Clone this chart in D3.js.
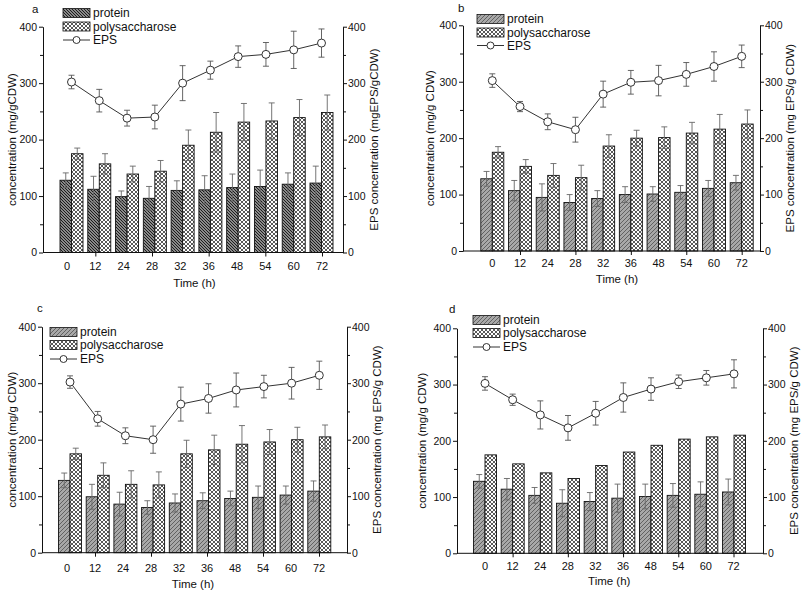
<!DOCTYPE html>
<html><head><meta charset="utf-8">
<script src="https://cdn.jsdelivr.net/npm/d3@7"></script>
<style>body{margin:0;background:#fff} text{font-family:"Liberation Sans",Arial,sans-serif;fill:#111}</style>
</head><body><svg id="chart" width="803" height="590"></svg>
<script>
const categories = ["0","12","24","28","32","36","48","54","60","72"];
const yTicks = [0,100,200,300,400];
const yMinorTicks = [50,150,250,350];
const seriesNames = ["protein","polysaccharose","EPS"];

// panel a
const proteinA    = [128,112,99,96,110,111,115,117,121,123];
const proteinErrA = [13,23,10,21,17,25,24,29,20,30];
const polyA       = [175,157,139,144,190,213,231,233,239,248];
const polyErrA    = [10,18,14,19,27,35,33,32,32,31];
const epsA        = [302,269,238,240,300,323,347,351,359,371];
const epsErrA     = [12,20,14,21,31,16,19,21,33,25];
// panel b
const proteinB    = [128,107,95,86,93,100,101,104,111,121];
const proteinErrB = [13,18,24,14,14,14,13,12,14,13];
const polyB       = [175,150,134,130,186,200,201,209,216,225];
const polyErrB    = [10,12,21,22,20,14,19,19,26,25];
const epsB        = [302,256,229,215,278,299,302,313,327,345];
const epsErrB     = [12,9,14,22,23,21,27,21,26,20];
// panel c
const proteinC    = [128,99,86,80,88,92,96,98,102,109];
const proteinErrC = [13,22,21,12,16,14,13,20,16,18];
const polyC       = [175,137,121,120,175,182,192,196,200,205];
const polyErrC    = [10,22,24,23,24,26,33,22,22,21];
const epsC        = [302,237,207,200,263,273,288,294,300,314];
const epsErrC     = [11,13,14,24,30,26,30,20,28,25];
// panel d
const proteinD    = [128,114,103,89,92,98,101,103,105,109];
const proteinErrD = [12,19,14,24,16,25,22,21,22,23];
const polyD       = [175,159,143,133,156,180,192,203,207,210];
const polyErrD    = null;
const epsD        = [302,273,246,223,249,277,292,305,312,319];
const epsErrD     = [12,10,25,22,21,26,20,12,13,25];

const panels = [
 {id:"a", protein:proteinA, proteinErr:proteinErrA, poly:polyA, polyErr:polyErrA, eps:epsA, epsErr:epsErrA,
  leftTitle:"concentration (mg/gCDW)", rightTitle:"EPS concentration (mgEPS/gCDW)", hatch:"hatchA",
  L:{axL:43, axR:343, y0:252.5, y400:26.7, bar0:71.5, bar9:321.5, lab0:67, lab9:322, tickBase:270, timeBase:287,
     labelX:32, labelY:13, legX:63, legRows:[13,26.5,40], leftTitleX:12, rightTitleX:373}},
 {id:"b", protein:proteinB, proteinErr:proteinErrB, poly:polyB, polyErr:polyErrB, eps:epsB, epsErr:epsErrB,
  leftTitle:"concentration (mg/g CDW)", rightTitle:"EPS concentration (mg EPS/g CDW)", hatch:"hatchB",
  L:{axL:463, axR:760, y0:251, y400:25.3, bar0:492.3, bar9:741.7, lab0:492.3, lab9:741.7, tickBase:267, timeBase:283,
     labelX:458, labelY:12, legX:477, legRows:[19,32.5,45.5], leftTitleX:430, rightTitleX:789}},
 {id:"c", protein:proteinC, proteinErr:proteinErrC, poly:polyC, polyErr:polyErrC, eps:epsC, epsErr:epsErrC,
  leftTitle:"concentration (mg/g CDW)", rightTitle:"EPS concentration (mg EPS/g CDW)", hatch:"hatchB",
  L:{axL:42, axR:347, y0:552.7, y400:326.7, bar0:70, bar9:319.3, lab0:67, lab9:319, tickBase:572, timeBase:588,
     labelX:37, labelY:312, legX:50, legRows:[332,345,359], leftTitleX:12, rightTitleX:376}},
 {id:"d", protein:proteinD, proteinErr:proteinErrD, poly:polyD, polyErr:polyErrD, eps:epsD, epsErr:epsErrD,
  leftTitle:"concentration (mg/g CDW)", rightTitle:"EPS concentration (mg EPS/g CDW)", hatch:"hatchB",
  L:{axL:457, axR:763, y0:553.3, y400:328.3, bar0:485, bar9:734, lab0:485, lab9:733.5, tickBase:570, timeBase:585,
     labelX:449, labelY:313, legX:473, legRows:[320,333,347], leftTitleX:422, rightTitleX:793}}
];

const svg = d3.select("#chart");
const defs = svg.append("defs");
function pattern(id, w, bg, d, stroke, sw){
  const p = defs.append("pattern").attr("id",id).attr("patternUnits","userSpaceOnUse").attr("width",w).attr("height",w);
  p.append("rect").attr("width",w).attr("height",w).attr("fill",bg);
  p.append("path").attr("d",d).attr("stroke",stroke).attr("stroke-width",sw).attr("fill","none");
}
pattern("hatchA",3,"#8a8a8a","M-1,-1 L4,4 M-1,2 L1,4 M2,-1 L4,1","#111",0.9);
pattern("hatchB",4,"#a8a8a8","M-1,5 L5,-1 M-1,1 L1,-1 M3,5 L5,3","#5a5a5a",0.9);
pattern("cross",4,"#fff","M0,0 L4,4 M4,0 L0,4 M-1,1 L1,-1 M3,5 L5,3","#222",0.75);

const fsTick = 10.5, fsTitle = 11.5, fsLeg = 12;

panels.forEach(P => {
  const L = P.L;
  const g = svg.append("g");
  const y = d3.scaleLinear().domain([0,400]).range([L.y0, L.y400]);
  const xb = d3.scaleLinear().domain([0,categories.length-1]).range([L.bar0, L.bar9]);
  const xl = d3.scaleLinear().domain([0,categories.length-1]).range([L.lab0, L.lab9]);
  const bw = 11.5;

  const idx = d3.range(categories.length);
  g.selectAll(".prot").data(idx).join("rect")
    .attr("x", i => xb(i)-bw).attr("width", bw)
    .attr("y", i => y(P.protein[i])).attr("height", i => y(0)-y(P.protein[i]))
    .attr("fill", `url(#${P.hatch})`).attr("stroke","#111").attr("stroke-width",0.9);
  g.selectAll(".poly").data(idx).join("rect")
    .attr("x", i => xb(i)).attr("width", bw)
    .attr("y", i => y(P.poly[i])).attr("height", i => y(0)-y(P.poly[i]))
    .attr("fill", "url(#cross)").attr("stroke","#111").attr("stroke-width",0.9);

  function errBars(cx, vals, errs, color, cap){
    if(!errs) return;
    idx.forEach(i => {
      const x = cx(i), t = y(vals[i]+errs[i]), b = y(vals[i]-errs[i]);
      const e = g.append("g").attr("stroke",color).attr("stroke-width",0.9);
      e.append("line").attr("x1",x).attr("x2",x).attr("y1",t).attr("y2",b);
      e.append("line").attr("x1",x-cap).attr("x2",x+cap).attr("y1",t).attr("y2",t);
      e.append("line").attr("x1",x-cap).attr("x2",x+cap).attr("y1",b).attr("y2",b);
    });
  }
  errBars(i => xb(i)-bw/2, P.protein, P.proteinErr, "#666", 3);
  errBars(i => xb(i)+bw/2, P.poly, P.polyErr, "#666", 3);

  errBars(i => xb(i), P.eps, P.epsErr, "#555", 3);
  g.append("path").datum(idx)
    .attr("d", d3.line().x(i => xb(i)).y(i => y(P.eps[i])))
    .attr("fill","none").attr("stroke","#333").attr("stroke-width",1);
  g.selectAll(".pt").data(idx).join("circle")
    .attr("cx", i => xb(i)).attr("cy", i => y(P.eps[i])).attr("r",4)
    .attr("fill","#fff").attr("stroke","#333").attr("stroke-width",1);

  function styleAxis(sel){
    sel.selectAll("path").attr("stroke","#111");
    sel.selectAll("line").attr("stroke","#111");
    sel.selectAll("text").attr("font-size",fsTick).attr("font-family","Liberation Sans, Arial, sans-serif").attr("fill","#111");
  }
  const la = g.append("g").attr("transform",`translate(${L.axL},0)`)
    .call(d3.axisLeft(y).tickValues(yTicks).tickSize(4).tickPadding(2).tickSizeOuter(0));
  styleAxis(la);
  const lam = g.append("g").attr("transform",`translate(${L.axL},0)`)
    .call(d3.axisLeft(y).tickValues(yMinorTicks).tickSize(3).tickFormat("").tickSizeOuter(0));
  styleAxis(lam); lam.select("path").remove();
  const ra = g.append("g").attr("transform",`translate(${L.axR},0)`)
    .call(d3.axisRight(y).tickValues(yTicks).tickSize(4).tickPadding(1).tickSizeOuter(0));
  styleAxis(ra);
  const ram = g.append("g").attr("transform",`translate(${L.axR},0)`)
    .call(d3.axisRight(y).tickValues(yMinorTicks).tickSize(3).tickFormat("").tickSizeOuter(0));
  styleAxis(ram); ram.select("path").remove();

  g.append("line").attr("x1",L.axL).attr("x2",L.axR).attr("y1",y(0)).attr("y2",y(0)).attr("stroke","#111");
  const xa = g.append("g").attr("transform",`translate(0,${y(0)})`)
    .call(d3.axisBottom(xl).tickValues([1,3,5,7,9]).tickSize(4).tickFormat(""));
  styleAxis(xa); xa.select("path").remove();
  g.selectAll(".xl").data(idx).join("text")
    .attr("x", i => xl(i)).attr("y", L.tickBase).attr("text-anchor","middle")
    .attr("font-size",fsTick+0.5).text(i => categories[i]);
  g.append("text").attr("x",(xl(0)+xl(9))/2).attr("y",L.timeBase).attr("text-anchor","middle")
    .attr("font-size",fsTitle).text("Time (h)");

  const ym = (L.y0+L.y400)/2;
  g.append("text").attr("transform",`translate(${L.leftTitleX+4},${ym}) rotate(-90)`)
    .attr("text-anchor","middle").attr("font-size",fsTitle).text(P.leftTitle);
  g.append("text").attr("transform",`translate(${L.rightTitleX+5},${ym}) rotate(-90)`)
    .attr("text-anchor","middle").attr("font-size",fsTitle).text(P.rightTitle);
  g.append("text").attr("x",L.labelX).attr("y",L.labelY).attr("font-size",fsTitle).text(P.id);

  const sw = 27, sh = 9;
  const fills = [`url(#${P.hatch})`, "url(#cross)"];
  [0,1].forEach(k => {
    g.append("rect").attr("x",L.legX).attr("y",L.legRows[k]-sh/2).attr("width",sw).attr("height",sh)
      .attr("fill",fills[k]).attr("stroke","#111").attr("stroke-width",0.8);
  });
  const ly = L.legRows[2];
  g.append("line").attr("x1",L.legX).attr("x2",L.legX+sw).attr("y1",ly).attr("y2",ly).attr("stroke","#333");
  g.append("circle").attr("cx",L.legX+sw/2).attr("cy",ly).attr("r",3.5).attr("fill","#fff").attr("stroke","#333");
  seriesNames.forEach((n,k) => {
    g.append("text").attr("x",L.legX+sw+3).attr("y",L.legRows[k]+4).attr("font-size",fsLeg).text(n);
  });
});
</script></body></html>
